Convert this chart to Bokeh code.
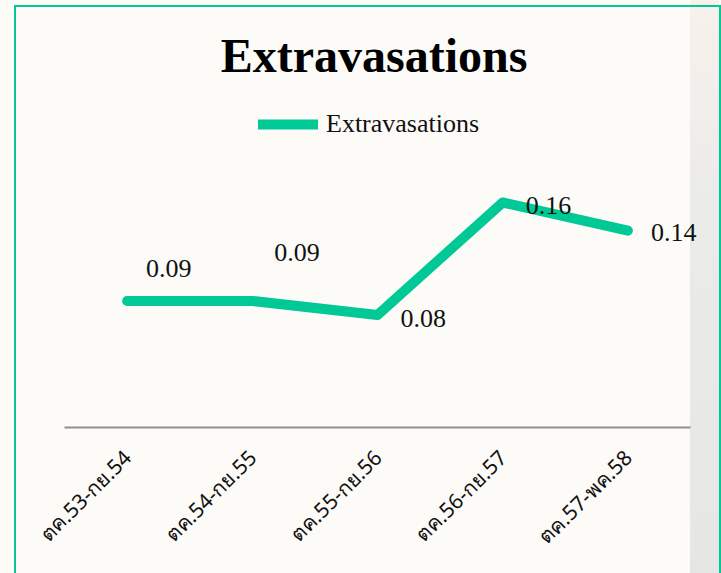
import math
from bokeh.plotting import figure
from bokeh.models import (Range1d, FixedTicker, Label, Legend, LegendItem, ColumnDataSource)
from bokeh.embed import file_html
from bokeh.resources import INLINE
from bokeh.core.properties import value

# ---- data ----
categories = ["ตค.53-กย.54", "ตค.54-กย.55", "ตค.55-กย.56", "ตค.56-กย.57", "ตค.57-พค.58"]
values = [0.09, 0.09, 0.08, 0.16, 0.14]
value_labels = ["0.09", "0.09", "0.08", "0.16", "0.14"]
series_name = "Extravasations"
title_text = "Extravasations"

# ---- style: label nudges in pixels ----
label_dx = [19, 22, 23, 23, 23]
label_dy = [-32, -48, 3, 3, 2]

GREEN = "#00C996"
W, H = 721, 573
FRAME_BOTTOM = 427          # canvas y of value 0
PX_X = 125.2                # pixels per category
X0 = 126.6                  # canvas x of first category
PX_Y = 1406.25              # pixels per unit of value

xpos = list(range(len(categories)))
src = ColumnDataSource(dict(x=xpos, y=values, lab=value_labels, dx=label_dx, dy=label_dy))

p = figure(width=W, height=H,
           x_range=Range1d(-X0 / PX_X, (W - X0) / PX_X),
           y_range=Range1d(0, FRAME_BOTTOM / PX_Y),
           output_backend="svg", toolbar_location=None,
           y_axis_location=None,
           min_border_left=0, min_border_right=0, min_border_top=0,
           min_border_bottom=H - FRAME_BOTTOM)
# transparent canvas; page backdrop (slide background, grey strip, green frame) via CSS
p.background_fill_alpha = 0
p.border_fill_alpha = 0
p.outline_line_color = None
p.grid.visible = False
p.styles = {
    "background":
        f"linear-gradient({GREEN},{GREEN}) 14px 5px / 2px 600px no-repeat, "
        f"linear-gradient({GREEN},{GREEN}) 14px 5px / 707px 2px no-repeat, "
        f"linear-gradient({GREEN},{GREEN}) 719px 5px / 2px 600px no-repeat, "
        "linear-gradient(to bottom, #f8f1ec, #ebebea 35%, #e6e6e4) 690px 0px / 29px 573px no-repeat, "
        "#fcfbf8",
}

r = p.line(x="x", y="y", source=src, line_color=GREEN, line_width=10,
           line_cap="round", line_join="round")

p.text(x="x", y="y", text="lab", source=src, x_offset="dx", y_offset="dy",
       text_font=value("Liberation Serif"), text_font_size="26px",
       text_color="#111111", text_align="left", text_baseline="alphabetic")

ax = p.xaxis[0]
ax.ticker = FixedTicker(ticks=xpos)
ax.major_label_overrides = {i: c for i, c in enumerate(categories)}
ax.bounds = (-0.5, len(categories) - 0.5)
ax.axis_line_color = "#8f8f8f"
ax.axis_line_width = 2
ax.major_tick_line_color = None
ax.minor_tick_line_color = None
ax.major_label_orientation = math.pi / 4
ax.major_label_standoff = 20
ax.major_label_text_font = "Noto Sans"
ax.major_label_text_font_size = "21px"
ax.major_label_text_color = "#111111"

# title
p.add_layout(Label(x=373.5, y=FRAME_BOTTOM - 55, x_units="screen", y_units="screen",
                   text=title_text, text_align="center", text_baseline="alphabetic",
                   text_font="Liberation Serif", text_font_style="bold",
                   text_font_size="48px", text_color="#000000"))

# legend
legend = Legend(items=[LegendItem(label=series_name, renderers=[r])],
                location=(258, FRAME_BOTTOM - 139),
                glyph_width=60, glyph_height=30, label_height=30, label_standoff=8,
                padding=0, margin=0, spacing=0,
                border_line_alpha=0, background_fill_alpha=0,
                label_text_font="Liberation Serif", label_text_font_size="26px",
                label_text_color="#111111")
p.add_layout(legend)

open("out.html", "w").write(file_html(p, INLINE))
